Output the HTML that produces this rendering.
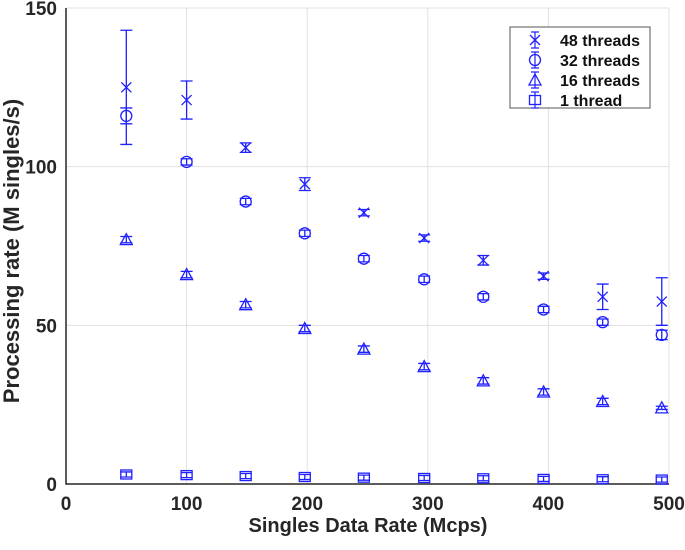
<!DOCTYPE html>
<html><head><meta charset="utf-8"><style>
body{margin:0;background:#fff;width:685px;height:545px;overflow:hidden}
text{font-family:"Liberation Sans",sans-serif;font-weight:bold}
</style></head><body>
<svg id="chart" width="685" height="545" xmlns="http://www.w3.org/2000/svg"></svg>
<script>
const xVals=[50,100,149,198,247,297,346,396,445,494];
const s48=[125,121,106,94.5,85.5,77.5,70.5,65.5,59,57.5];
const e48=[18,6,1.5,2,1,1,1.5,1,4,7.5];
const s32=[116,101.5,89,79,71,64.5,59,55,51,47];
const e32=[2.5,1,1,1,1,1,1,1,1,1.5];
const s16=[77,66,56.5,49,42.5,37,32.5,29,26,24];
const e16=[1,1,1,1,1,1,1,1,1,0.5];
const s1=[3,2.8,2.5,2.2,2,1.9,1.8,1.6,1.5,1.4];
const e1=[0.8,0.8,0.8,0.8,0.8,0.8,0.8,0.8,0.8,0.8];
const xTicks=[0,100,200,300,400,500];
const yTicks=[0,50,100,150];
const legendLabels=["48 threads","32 threads","16 threads","1 thread"];

const X0=66,X1=669,Y0=484,Y1=8;
const sx=v=>X0+(v/500)*(X1-X0);
const sy=v=>Y0-(v/150)*(Y0-Y1);
const svg=document.getElementById('chart');
const NS='http://www.w3.org/2000/svg';
function mk(tag,attrs,parent){const e=document.createElementNS(NS,tag);for(const k in attrs)e.setAttribute(k,attrs[k]);(parent||svg).appendChild(e);return e;}
const C='#2020ff';
xTicks.forEach(t=>{if(t>0){const l=mk('line',{x1:sx(t),x2:sx(t),y1:Y1,y2:Y0,stroke:'#e0e0e0','stroke-width':1});

}
const tx=mk('text',{x:sx(t),y:Y0+26,'text-anchor':'middle','font-size':19,fill:'#262626'});tx.textContent=t;

});
yTicks.forEach(t=>{if(t>0){const l=mk('line',{x1:X0,x2:X1,y1:sy(t),y2:sy(t),stroke:'#e0e0e0','stroke-width':1});

}
const tx=mk('text',{x:X0-9,y:sy(t)+7,'text-anchor':'end','font-size':19,fill:'#262626'});tx.textContent=t;

});
const ax=mk('path',{d:`M${X0},${Y1}V${Y0}H${X1}`,stroke:'#262626','stroke-width':1.5,fill:'none'});


const xt=mk('text',{x:368,y:532,'text-anchor':'middle','font-size':20,fill:'#262626'});xt.textContent='Singles Data Rate (Mcps)';


const yt=mk('text',{x:0,y:0,'text-anchor':'middle','font-size':22,fill:'#262626',transform:`translate(19,251) rotate(-90)`});yt.textContent='Processing rate (M singles/s)';



function marker(g,type,cx,cy){
 const a={stroke:C,'stroke-width':1.3,fill:'none'};
 if(type==='x'){mk('path',Object.assign({d:`M${cx-5},${cy-5}L${cx+5},${cy+5}M${cx-5},${cy+5}L${cx+5},${cy-5}`},a),g);}
 else if(type==='o'){mk('circle',Object.assign({cx,cy,r:5.5},a),g);}
 else if(type==='t'){mk('path',Object.assign({d:`M${cx},${cy-6}L${cx+6},${cy+5}L${cx-6},${cy+5}Z`},a),g);}
 else {mk('rect',Object.assign({x:cx-5.5,y:cy-4.5,width:11,height:9},a),g);}
}
function series(name,vals,errs,type){
 const g=mk('g',{});
 
 
 vals.forEach((v,i)=>{
  const cx=sx(xVals[i]),cy=sy(v),t=sy(v+errs[i]),b=sy(v-errs[i]);
  const p=mk('path',{d:`M${cx},${t}V${b}M${cx-6},${t}H${cx+6}M${cx-6},${b}H${cx+6}`,stroke:C,'stroke-width':1.3,fill:'none'},g);
  
  
  marker(g,type,cx,cy);
 });
}
series('series-48-threads',s48,e48,'x');
series('series-32-threads',s32,e32,'o');
series('series-16-threads',s16,e16,'t');
series('series-1-thread',s1,e1,'s');

const lg=mk('g',{});


mk('rect',{x:510,y:27,width:140,height:81,fill:'#fff',stroke:'#555','stroke-width':1},lg);
const types=['x','o','t','s'];
legendLabels.forEach((lab,i)=>{
 const y=40+i*20;
 const eg=mk('g',{},lg);
 
 
 mk('path',{d:`M535,${y-8}V${y+8}M531,${y-8}H539M531,${y+8}H539`,stroke:C,'stroke-width':1.2,fill:'none'},eg);
 marker(eg,types[i],535,y);
 const t=mk('text',{x:560,y:y+6,'font-size':16,fill:'#111'},eg);t.textContent=lab;
});
</script>
</body></html>
